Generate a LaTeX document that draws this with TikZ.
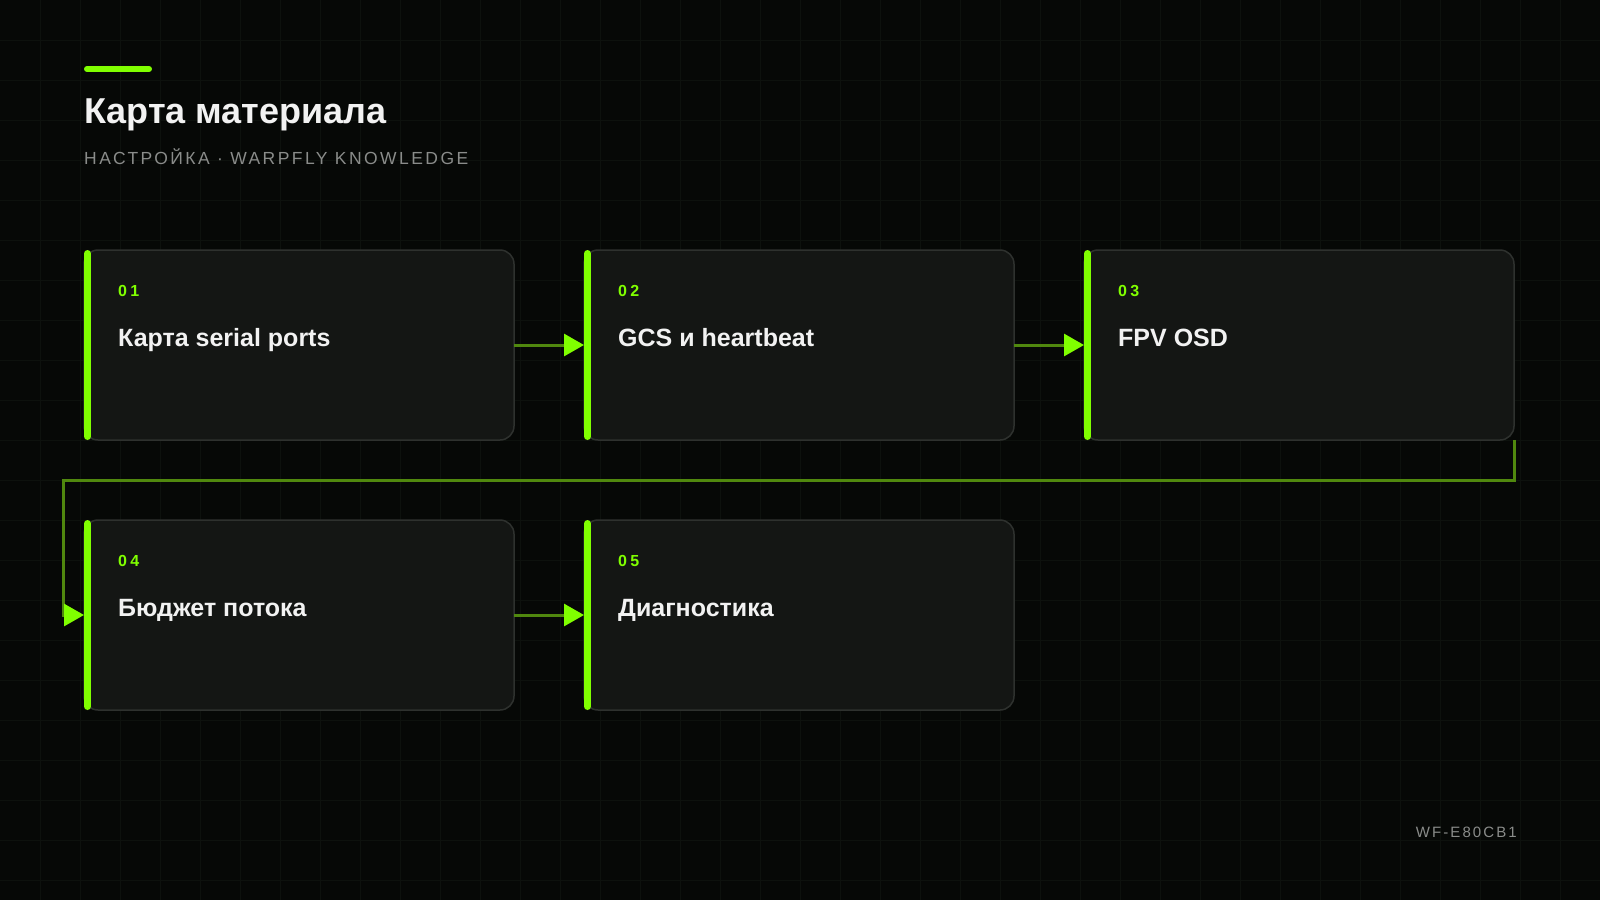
\documentclass[tikz,border=0pt]{standalone}
\usepackage{fontspec}
\setmainfont{Liberation Sans}
\newfontfamily\spacedfont[LetterSpace=14]{Liberation Sans}
\newfontfamily\widefont[LetterSpace=20]{Liberation Sans}
\usepackage{xcolor}
\usetikzlibrary{calc}
\usetikzlibrary{positioning}
\usetikzlibrary{arrows.meta}
\definecolor{bgcol}{RGB}{6,8,6}
\definecolor{gridcol}{RGB}{13,17,13}
\definecolor{cardcol}{RGB}{20,22,20}
\definecolor{edgecol}{RGB}{46,49,46}
\definecolor{accent}{RGB}{128,255,0}
\definecolor{wirecol}{RGB}{80,136,14}
\definecolor{inkcol}{RGB}{242,242,242}
\definecolor{mutedcol}{RGB}{138,140,138}
\tikzset{
card/.style={draw=edgecol, fill=cardcol, line width=1.5, rounded corners=14,
	minimum width=430, minimum height=190, inner sep=0, outer sep=0, anchor=north west},
bar/.style={accent, line width=7, line cap=round},
stepno/.style={anchor=base west, text=accent, font=\widefont\bfseries\fontsize{16}{19}\selectfont},
steptitle/.style={anchor=base west, text=inkcol, font=\bfseries\fontsize{25}{30}\selectfont},
flow/.style={wirecol, line width=3, -{Triangle[length=20, width=22, color=accent]}},
}

\begin{document}
\begin{tikzpicture}[x=1pt, y=-1pt]
\useasboundingbox (0,0) rectangle (1600,900);
\fill[bgcol] (0,0) rectangle (1600,900);
\foreach \g in {40,80,...,1560} {
	\draw[gridcol, line width=1] (\g,0) -- (\g,900);
}
\foreach \g in {40,80,...,880} {
	\draw[gridcol, line width=1] (0,\g) -- (1600,\g);
}

%Heading
\draw[accent, line width=6, line cap=round] (87,69) -- (149,69);
\node[anchor=base west, inner sep=0, text=inkcol, font=\bfseries\fontsize{36}{43}\selectfont] (head) at (84,123) {Карта материала};
\node[anchor=base west, inner sep=0, text=mutedcol, font=\spacedfont\fontsize{17.5}{21}\selectfont] (sub) at (84,164) {НАСТРОЙКА · WARPFLY KNOWLEDGE};

%Place the nodes
\node[card] (s1) at (84,250) {};
\node[card] (s2) at (584,250) {};
\node[card] (s3) at (1084,250) {};
\node[card] (s4) at (84,520) {};
\node[card] (s5) at (584,520) {};

\foreach \s/\n/\t in {s1/01/Карта serial ports, s2/02/GCS и heartbeat, s3/03/FPV OSD, s4/04/Бюджет потока, s5/05/Диагностика} {
	\draw[bar] ([shift={(3.5,3.5)}]\s.north west) -- ([shift={(3.5,-3.5)}]\s.south west);
	\node[stepno, inner sep=0] (\s n) at ([shift={(34,46)}]\s.north west) {\n};
	\node[steptitle, inner sep=0] (\s t) at ([shift={(34,96)}]\s.north west) {\t};
}

%
\draw[flow] (s1.east) -- (s2.west);
\draw[flow] (s2.east) -- (s3.west);
\draw[flow] (s4.east) -- (s5.west);

%
\coordinate (turn) at ($(s3.south east)+(0,40)$);
\draw[flow] (s3.south east) -- (turn) -| ([xshift=-21]s4.west) -- (s4.west);

\node[anchor=base east, inner sep=0, text=mutedcol, font=\spacedfont\fontsize{15}{18}\selectfont] (code) at (1517,837) {WF-E80CB1};

\end{tikzpicture}
\end{document}
